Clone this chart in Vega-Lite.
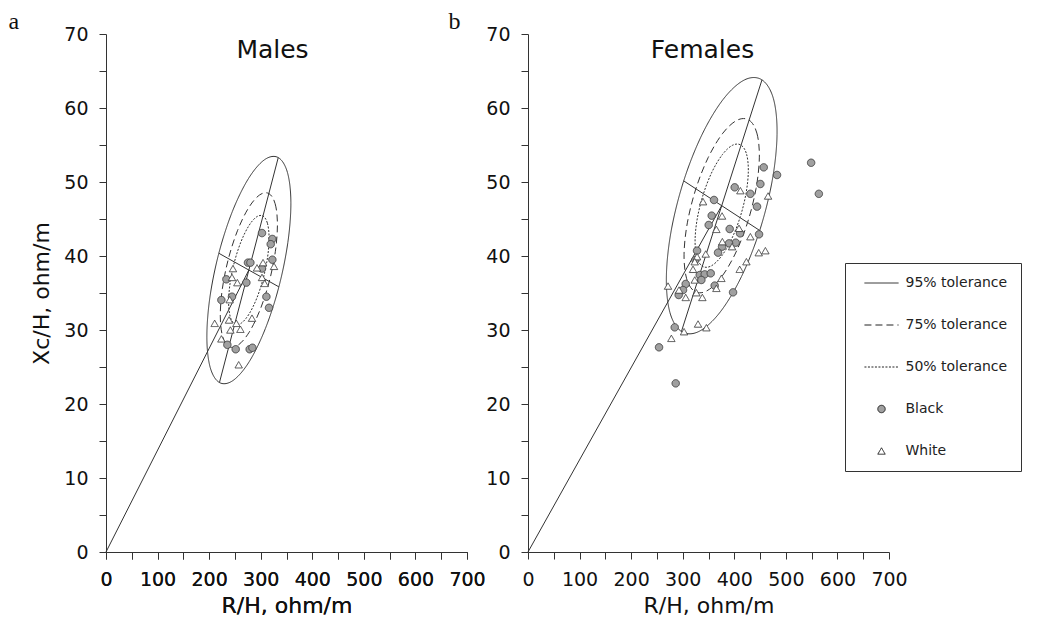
{
  "$schema": "https://vega.github.io/schema/vega-lite/v6.json",
  "background": "white",
  "padding": {"left": 8, "top": 9, "right": 5, "bottom": 3},
  "bounds": "flush",
  "spacing": 61,
  "datasets": {
    "seg": [
      {"s": "M", "x": 0, "y": 0, "x2": 277, "y2": 38.1},
      {"s": "M", "x": 220, "y": 22.9, "x2": 334, "y2": 53.3},
      {"s": "M", "x": 218.8, "y": 40.37, "x2": 335.2, "y2": 35.83},
      {"s": "F", "x": 0, "y": 0, "x2": 375.6, "y2": 46.8},
      {"s": "F", "x": 297.5, "y": 29.8, "x2": 453.7, "y2": 63.8},
      {"s": "F", "x": 301.9, "y": 50.15, "x2": 449.3, "y2": 43.45}
    ],
    "ell": [
      {"s":"M","series":"95% tolerance","i":0,"x":334.0,"y":53.3},
      {"s":"M","series":"95% tolerance","i":1,"x":351.9,"y":51.27},
      {"s":"M","series":"95% tolerance","i":2,"x":358.5,"y":47.24},
      {"s":"M","series":"95% tolerance","i":3,"x":352.6,"y":41.82},
      {"s":"M","series":"95% tolerance","i":4,"x":335.2,"y":35.83},
      {"s":"M","series":"95% tolerance","i":5,"x":309.0,"y":30.19},
      {"s":"M","series":"95% tolerance","i":6,"x":277.9,"y":25.74},
      {"s":"M","series":"95% tolerance","i":7,"x":246.6,"y":23.19},
      {"s":"M","series":"95% tolerance","i":8,"x":220.0,"y":22.9},
      {"s":"M","series":"95% tolerance","i":9,"x":202.1,"y":24.93},
      {"s":"M","series":"95% tolerance","i":10,"x":195.6,"y":28.96},
      {"s":"M","series":"95% tolerance","i":11,"x":201.4,"y":34.38},
      {"s":"M","series":"95% tolerance","i":12,"x":218.8,"y":40.37},
      {"s":"M","series":"95% tolerance","i":13,"x":245.0,"y":46.01},
      {"s":"M","series":"95% tolerance","i":14,"x":276.2,"y":50.46},
      {"s":"M","series":"95% tolerance","i":15,"x":307.4,"y":53.01},
      {"s":"M","series":"75% tolerance","i":0,"x":315.8,"y":48.44},
      {"s":"M","series":"75% tolerance","i":1,"x":328.0,"y":47.06},
      {"s":"M","series":"75% tolerance","i":2,"x":332.4,"y":44.32},
      {"s":"M","series":"75% tolerance","i":3,"x":328.4,"y":40.63},
      {"s":"M","series":"75% tolerance","i":4,"x":316.6,"y":36.56},
      {"s":"M","series":"75% tolerance","i":5,"x":298.7,"y":32.72},
      {"s":"M","series":"75% tolerance","i":6,"x":277.6,"y":29.70},
      {"s":"M","series":"75% tolerance","i":7,"x":256.3,"y":27.96},
      {"s":"M","series":"75% tolerance","i":8,"x":238.2,"y":27.76},
      {"s":"M","series":"75% tolerance","i":9,"x":226.1,"y":29.14},
      {"s":"M","series":"75% tolerance","i":10,"x":221.6,"y":31.88},
      {"s":"M","series":"75% tolerance","i":11,"x":225.6,"y":35.57},
      {"s":"M","series":"75% tolerance","i":12,"x":237.4,"y":39.64},
      {"s":"M","series":"75% tolerance","i":13,"x":255.3,"y":43.48},
      {"s":"M","series":"75% tolerance","i":14,"x":276.4,"y":46.5},
      {"s":"M","series":"75% tolerance","i":15,"x":297.7,"y":48.24},
      {"s":"M","series":"50% tolerance","i":0,"x":304.4,"y":45.41},
      {"s":"M","series":"50% tolerance","i":1,"x":313.0,"y":44.43},
      {"s":"M","series":"50% tolerance","i":2,"x":316.2,"y":42.50},
      {"s":"M","series":"50% tolerance","i":3,"x":313.4,"y":39.89},
      {"s":"M","series":"50% tolerance","i":4,"x":305.0,"y":37.01},
      {"s":"M","series":"50% tolerance","i":5,"x":292.4,"y":34.30},
      {"s":"M","series":"50% tolerance","i":6,"x":277.4,"y":32.16},
      {"s":"M","series":"50% tolerance","i":7,"x":262.4,"y":30.93},
      {"s":"M","series":"50% tolerance","i":8,"x":249.6,"y":30.79},
      {"s":"M","series":"50% tolerance","i":9,"x":241.0,"y":31.77},
      {"s":"M","series":"50% tolerance","i":10,"x":237.8,"y":33.70},
      {"s":"M","series":"50% tolerance","i":11,"x":240.6,"y":36.31},
      {"s":"M","series":"50% tolerance","i":12,"x":249.0,"y":39.19},
      {"s":"M","series":"50% tolerance","i":13,"x":261.6,"y":41.90},
      {"s":"M","series":"50% tolerance","i":14,"x":276.6,"y":44.04},
      {"s":"M","series":"50% tolerance","i":15,"x":291.6,"y":45.27},
      {"s":"F","series":"95% tolerance","i":0,"x":453.7,"y":63.8},
      {"s":"F","series":"95% tolerance","i":1,"x":476.0,"y":61.23},
      {"s":"F","series":"95% tolerance","i":2,"x":482.9,"y":56.45},
      {"s":"F","series":"95% tolerance","i":3,"x":473.6,"y":50.21},
      {"s":"F","series":"95% tolerance","i":4,"x":449.3,"y":43.45},
      {"s":"F","series":"95% tolerance","i":5,"x":413.8,"y":37.2},
      {"s":"F","series":"95% tolerance","i":6,"x":372.5,"y":32.41},
      {"s":"F","series":"95% tolerance","i":7,"x":331.6,"y":29.81},
      {"s":"F","series":"95% tolerance","i":8,"x":297.5,"y":29.8},
      {"s":"F","series":"95% tolerance","i":9,"x":275.2,"y":32.37},
      {"s":"F","series":"95% tolerance","i":10,"x":268.3,"y":37.15},
      {"s":"F","series":"95% tolerance","i":11,"x":277.6,"y":43.39},
      {"s":"F","series":"95% tolerance","i":12,"x":301.9,"y":50.15},
      {"s":"F","series":"95% tolerance","i":13,"x":337.4,"y":56.4},
      {"s":"F","series":"95% tolerance","i":14,"x":378.7,"y":61.19},
      {"s":"F","series":"95% tolerance","i":15,"x":419.6,"y":63.79},
      {"s":"F","series":"75% tolerance","i":0,"x":428.7,"y":58.36},
      {"s":"F","series":"75% tolerance","i":1,"x":443.8,"y":56.61},
      {"s":"F","series":"75% tolerance","i":2,"x":448.6,"y":53.36},
      {"s":"F","series":"75% tolerance","i":3,"x":442.2,"y":49.12},
      {"s":"F","series":"75% tolerance","i":4,"x":425.7,"y":44.52},
      {"s":"F","series":"75% tolerance","i":5,"x":401.6,"y":40.27},
      {"s":"F","series":"75% tolerance","i":6,"x":373.5,"y":37.01},
      {"s":"F","series":"75% tolerance","i":7,"x":345.7,"y":35.25},
      {"s":"F","series":"75% tolerance","i":8,"x":322.5,"y":35.24},
      {"s":"F","series":"75% tolerance","i":9,"x":307.4,"y":36.99},
      {"s":"F","series":"75% tolerance","i":10,"x":302.6,"y":40.24},
      {"s":"F","series":"75% tolerance","i":11,"x":309.0,"y":44.48},
      {"s":"F","series":"75% tolerance","i":12,"x":325.5,"y":49.08},
      {"s":"F","series":"75% tolerance","i":13,"x":349.6,"y":53.33},
      {"s":"F","series":"75% tolerance","i":14,"x":377.7,"y":56.59},
      {"s":"F","series":"75% tolerance","i":15,"x":405.5,"y":58.35},
      {"s":"F","series":"50% tolerance","i":0,"x":413.2,"y":54.98},
      {"s":"F","series":"50% tolerance","i":1,"x":423.9,"y":53.74},
      {"s":"F","series":"50% tolerance","i":2,"x":427.2,"y":51.44},
      {"s":"F","series":"50% tolerance","i":3,"x":422.7,"y":48.44},
      {"s":"F","series":"50% tolerance","i":4,"x":411.1,"y":45.19},
      {"s":"F","series":"50% tolerance","i":5,"x":394.0,"y":42.18},
      {"s":"F","series":"50% tolerance","i":6,"x":374.1,"y":39.88},
      {"s":"F","series":"50% tolerance","i":7,"x":354.5,"y":38.63},
      {"s":"F","series":"50% tolerance","i":8,"x":338.0,"y":38.62},
      {"s":"F","series":"50% tolerance","i":9,"x":327.3,"y":39.86},
      {"s":"F","series":"50% tolerance","i":10,"x":324.0,"y":42.16},
      {"s":"F","series":"50% tolerance","i":11,"x":328.5,"y":45.16},
      {"s":"F","series":"50% tolerance","i":12,"x":340.2,"y":48.41},
      {"s":"F","series":"50% tolerance","i":13,"x":357.2,"y":51.42},
      {"s":"F","series":"50% tolerance","i":14,"x":377.1,"y":53.72},
      {"s":"F","series":"50% tolerance","i":15,"x":396.7,"y":54.97}
    ],
    "pts": [
      {"s":"M","series":"Black","x":302.5,"y":43.1},
      {"s":"M","series":"Black","x":322.6,"y":42.3},
      {"s":"M","series":"Black","x":319.4,"y":41.6},
      {"s":"M","series":"Black","x":275.3,"y":39.1},
      {"s":"M","series":"Black","x":280.0,"y":39.1},
      {"s":"M","series":"Black","x":322.6,"y":39.5},
      {"s":"M","series":"Black","x":302.5,"y":38.3},
      {"s":"M","series":"Black","x":272.2,"y":36.4},
      {"s":"M","series":"Black","x":233.4,"y":36.85},
      {"s":"M","series":"Black","x":223.7,"y":34.05},
      {"s":"M","series":"Black","x":244.3,"y":34.5},
      {"s":"M","series":"Black","x":311.0,"y":34.5},
      {"s":"M","series":"Black","x":316.1,"y":33.0},
      {"s":"M","series":"Black","x":235.3,"y":28.0},
      {"s":"M","series":"Black","x":251.5,"y":27.4},
      {"s":"M","series":"Black","x":278.6,"y":27.4},
      {"s":"M","series":"Black","x":283.9,"y":27.6},
      {"s":"M","series":"White","x":304.5,"y":39.1},
      {"s":"M","series":"White","x":292.8,"y":38.4},
      {"s":"M","series":"White","x":325.8,"y":38.6},
      {"s":"M","series":"White","x":246.2,"y":38.3},
      {"s":"M","series":"White","x":244.3,"y":37.1},
      {"s":"M","series":"White","x":254.7,"y":36.4},
      {"s":"M","series":"White","x":302.5,"y":37.1},
      {"s":"M","series":"White","x":307.7,"y":36.3},
      {"s":"M","series":"White","x":239.8,"y":34.1},
      {"s":"M","series":"White","x":210.7,"y":30.9},
      {"s":"M","series":"White","x":238.5,"y":31.35},
      {"s":"M","series":"White","x":241.2,"y":30.0},
      {"s":"M","series":"White","x":223.7,"y":28.8},
      {"s":"M","series":"White","x":252.8,"y":30.9},
      {"s":"M","series":"White","x":260.6,"y":30.1},
      {"s":"M","series":"White","x":283.1,"y":31.6},
      {"s":"M","series":"White","x":257.3,"y":25.3},
      {"s":"F","series":"Black","x":457.1,"y":51.98},
      {"s":"F","series":"Black","x":482.9,"y":50.95},
      {"s":"F","series":"Black","x":450.6,"y":49.73},
      {"s":"F","series":"Black","x":400.8,"y":49.28},
      {"s":"F","series":"Black","x":431.2,"y":48.4},
      {"s":"F","series":"Black","x":444.1,"y":46.67},
      {"s":"F","series":"Black","x":360.7,"y":47.57},
      {"s":"F","series":"Black","x":356.2,"y":45.45},
      {"s":"F","series":"Black","x":350.4,"y":44.19},
      {"s":"F","series":"Black","x":391.1,"y":43.65},
      {"s":"F","series":"Black","x":411.2,"y":43.06},
      {"s":"F","series":"Black","x":448.0,"y":42.93},
      {"s":"F","series":"Black","x":402.8,"y":41.8},
      {"s":"F","series":"Black","x":389.8,"y":41.71},
      {"s":"F","series":"Black","x":376.3,"y":41.26},
      {"s":"F","series":"Black","x":368.5,"y":40.45},
      {"s":"F","series":"Black","x":327.8,"y":40.72},
      {"s":"F","series":"Black","x":324.6,"y":39.46},
      {"s":"F","series":"Black","x":333.0,"y":37.43},
      {"s":"F","series":"Black","x":342.7,"y":37.52},
      {"s":"F","series":"Black","x":354.3,"y":37.66},
      {"s":"F","series":"Black","x":336.2,"y":36.76},
      {"s":"F","series":"Black","x":305.8,"y":36.22},
      {"s":"F","series":"Black","x":300.6,"y":35.4},
      {"s":"F","series":"Black","x":292.2,"y":34.73},
      {"s":"F","series":"Black","x":362.0,"y":36.0},
      {"s":"F","series":"Black","x":397.6,"y":35.09},
      {"s":"F","series":"Black","x":284.5,"y":30.36},
      {"s":"F","series":"Black","x":254.1,"y":27.66},
      {"s":"F","series":"Black","x":286.4,"y":22.79},
      {"s":"F","series":"Black","x":549.0,"y":52.6},
      {"s":"F","series":"Black","x":564.0,"y":48.4},
      {"s":"F","series":"White","x":411.8,"y":48.83},
      {"s":"F","series":"White","x":465.5,"y":48.11},
      {"s":"F","series":"White","x":339.4,"y":47.34},
      {"s":"F","series":"White","x":376.3,"y":45.41},
      {"s":"F","series":"White","x":365.3,"y":43.6},
      {"s":"F","series":"White","x":409.2,"y":43.74},
      {"s":"F","series":"White","x":431.2,"y":42.61},
      {"s":"F","series":"White","x":376.9,"y":41.94},
      {"s":"F","series":"White","x":395.7,"y":41.26},
      {"s":"F","series":"White","x":447.4,"y":40.45},
      {"s":"F","series":"White","x":460.3,"y":40.72},
      {"s":"F","series":"White","x":344.6,"y":40.27},
      {"s":"F","series":"White","x":327.8,"y":39.91},
      {"s":"F","series":"White","x":323.3,"y":39.23},
      {"s":"F","series":"White","x":423.5,"y":39.23},
      {"s":"F","series":"White","x":410.5,"y":38.2},
      {"s":"F","series":"White","x":320.0,"y":38.2},
      {"s":"F","series":"White","x":375.0,"y":36.98},
      {"s":"F","series":"White","x":323.3,"y":36.76},
      {"s":"F","series":"White","x":271.5,"y":35.94},
      {"s":"F","series":"White","x":365.3,"y":35.63},
      {"s":"F","series":"White","x":292.9,"y":35.4},
      {"s":"F","series":"White","x":305.8,"y":34.4},
      {"s":"F","series":"White","x":326.5,"y":35.04},
      {"s":"F","series":"White","x":338.1,"y":34.4},
      {"s":"F","series":"White","x":329.7,"y":30.81},
      {"s":"F","series":"White","x":345.9,"y":30.31},
      {"s":"F","series":"White","x":302.6,"y":29.77},
      {"s":"F","series":"White","x":278.0,"y":28.87}
    ]
  },
  "resolve": {"scale": {"shape": "independent", "fill": "independent", "strokeDash": "independent"}},
  "hconcat": [
    {
      "width": 361,
      "height": 518,
      "title": {"text": "Males", "offset": -54, "dx": -14},
      "resolve": {"axis": {"x": "independent"}},
      "encoding": {
        "x": {"field": "x", "type": "quantitative", "scale": {"domain": [0, 700], "nice": false},
          "axis": {"title": "R/H, ohm/m", "values": [0,50,100,150,200,250,300,350,400,450,500,550,600,650,700], "labelExpr": "datum.value % 100 === 0 ? datum.label : ''"}},
        "y": {"field": "y", "type": "quantitative", "scale": {"domain": [0, 70], "nice": false},
          "axis": {"title": "Xc/H, ohm/m", "titlePadding": 10, "values": [0,5,10,15,20,25,30,35,40,45,50,55,60,65,70], "labelExpr": "datum.value % 10 === 0 ? datum.label : ''"}}
      },
      "layer": [
        {"data": {"name": "seg"}, "transform": [{"filter": "datum.s === 'M'"}],
         "mark": {"type": "rule", "color": "#333", "strokeWidth": 1},
         "encoding": {
           "x": {"field": "x", "type": "quantitative", "scale": {"domain": [0, 700], "nice": false},
             "axis": {"orient": "top", "domain": false, "ticks": false, "labels": false, "title": "a", "titleAngle": 0, "titleX": -98, "titleY": -6, "titleAlign": "left", "titleBaseline": "alphabetic", "titleFont": "Liberation Serif", "titleFontSize": 24, "titleFontWeight": "normal"}},
           "x2": {"field": "x2"}, "y2": {"field": "y2"}}},
        {"data": {"name": "ell"}, "transform": [{"filter": "datum.s === 'M'"}],
         "mark": {"type": "line", "interpolate": "cardinal-closed", "color": "#333", "strokeWidth": 1},
         "encoding": {"order": {"field": "i", "type": "quantitative"},
           "strokeDash": {"field": "series", "type": "nominal", "legend": null,
             "scale": {"domain": ["95% tolerance","75% tolerance","50% tolerance","Black","White"], "range": [[1,0],[7,4],[2,1.5],[1,0],[1,0]]}}}},
        {"data": {"name": "pts"}, "transform": [{"filter": "datum.s === 'M'"}],
         "mark": {"type": "point", "filled": true, "size": 55, "stroke": "#3a3a3a", "strokeWidth": 0.9, "opacity": 1},
         "encoding": {
           "shape": {"field": "series", "type": "nominal", "legend": null,
             "scale": {"domain": ["95% tolerance","75% tolerance","50% tolerance","Black","White"], "range": ["M-4.6,0H4.6","M-4.6,0H4.6","M-4.6,0H4.6","circle","triangle-up"]}},
           "fill": {"field": "series", "type": "nominal", "legend": null,
             "scale": {"domain": ["95% tolerance","75% tolerance","50% tolerance","Black","White"], "range": ["transparent","transparent","transparent","#a0a0a0","#ffffff"]}},
           "strokeDash": {"field": "series", "type": "nominal", "legend": null,
             "scale": {"domain": ["95% tolerance","75% tolerance","50% tolerance","Black","White"], "range": [[1,0],[7,4],[2,1.5],[1,0],[1,0]]}}
         }}
      ]
    },
    {
      "width": 361,
      "height": 518,
      "title": {"text": "Females", "offset": -54, "dx": -6},
      "encoding": {
        "x": {"field": "x", "type": "quantitative", "scale": {"domain": [0, 700], "nice": false},
          "axis": {"title": "R/H, ohm/m", "values": [0,50,100,150,200,250,300,350,400,450,500,550,600,650,700], "labelExpr": "datum.value % 100 === 0 ? datum.label : ''"}},
        "y": {"field": "y", "type": "quantitative", "scale": {"domain": [0, 70], "nice": false},
          "axis": {"title": "b", "titleAngle": 0, "titleX": -80, "titleY": -6, "titleAlign": "left", "titleBaseline": "alphabetic", "titleFont": "Liberation Serif", "titleFontSize": 24, "values": [0,5,10,15,20,25,30,35,40,45,50,55,60,65,70], "labelExpr": "datum.value % 10 === 0 ? datum.label : ''"}}
      },
      "layer": [
        {"data": {"name": "seg"}, "transform": [{"filter": "datum.s === 'F'"}],
         "mark": {"type": "rule", "color": "#333", "strokeWidth": 1},
         "encoding": {"x2": {"field": "x2"}, "y2": {"field": "y2"}}},
        {"data": {"name": "ell"}, "transform": [{"filter": "datum.s === 'F'"}],
         "mark": {"type": "line", "interpolate": "cardinal-closed", "color": "#333", "strokeWidth": 1},
         "encoding": {"order": {"field": "i", "type": "quantitative"},
           "strokeDash": {"field": "series", "type": "nominal",
             "legend": {"orient": "none", "legendX": 317, "legendY": 229, "encode": {"symbols": {"update": {"stroke": {"value": "#222"}, "strokeWidth": {"value": 1}, "opacity": {"value": 1}}}}},
             "scale": {"domain": ["95% tolerance","75% tolerance","50% tolerance","Black","White"], "range": [[1,0],[7,4],[2,1.5],[1,0],[1,0]]}}}},
        {"data": {"name": "pts"}, "transform": [{"filter": "datum.s === 'F'"}],
         "mark": {"type": "point", "filled": true, "size": 55, "stroke": "#3a3a3a", "strokeWidth": 0.9, "opacity": 1},
         "encoding": {
           "shape": {"field": "series", "type": "nominal",
             "legend": {"orient": "none", "legendX": 317, "legendY": 229, "encode": {"symbols": {"update": {"stroke": {"value": "#222"}, "strokeWidth": {"value": 1}, "opacity": {"value": 1}}}}},
             "scale": {"domain": ["95% tolerance","75% tolerance","50% tolerance","Black","White"], "range": ["M-4.6,0H4.6","M-4.6,0H4.6","M-4.6,0H4.6","circle","triangle-up"]}},
           "fill": {"field": "series", "type": "nominal",
             "legend": {"orient": "none", "legendX": 317, "legendY": 229, "encode": {"symbols": {"update": {"stroke": {"value": "#222"}, "strokeWidth": {"value": 1}, "opacity": {"value": 1}}}}},
             "scale": {"domain": ["95% tolerance","75% tolerance","50% tolerance","Black","White"], "range": ["transparent","transparent","transparent","#a0a0a0","#ffffff"]}},
           "strokeDash": {"field": "series", "type": "nominal",
             "legend": {"orient": "none", "legendX": 317, "legendY": 229, "encode": {"symbols": {"update": {"stroke": {"value": "#222"}, "strokeWidth": {"value": 1}, "opacity": {"value": 1}}}}},
             "scale": {"domain": ["95% tolerance","75% tolerance","50% tolerance","Black","White"], "range": [[1,0],[7,4],[2,1.5],[1,0],[1,0]]}}
         }}
      ]
    }
  ],
  "config": {
    "view": {"stroke": null},
    "font": "DejaVu Sans",
    "title": {"font": "DejaVu Sans", "fontSize": 25, "fontWeight": "normal", "color": "#111", "anchor": "middle", "frame": "group", "baseline": "alphabetic"},
    "axis": {"grid": false, "domainColor": "#333", "tickColor": "#333", "tickSize": 7, "domainWidth": 1, "tickWidth": 1,
      "labelFont": "DejaVu Sans", "labelFontSize": 19, "labelColor": "#111", "labelPadding": 11, "labelFlush": false, "labelOverlap": false,
      "titleFont": "DejaVu Sans", "titleFontSize": 22, "titleFontWeight": "normal", "titleColor": "#111", "titlePadding": 6},
    "legend": {"title": null, "padding": 13, "strokeColor": "#333", "fillColor": "white", "cornerRadius": 0,
      "rowPadding": 28, "symbolOffset": 16.5, "labelOffset": 17, "labelFont": "DejaVu Sans", "labelFontSize": 14, "labelColor": "#222",
      "symbolSize": 55, "symbolStrokeWidth": 1, "symbolStrokeColor": "#222", "symbolOpacity": 1, "symbolLimit": 0}
  }
}
